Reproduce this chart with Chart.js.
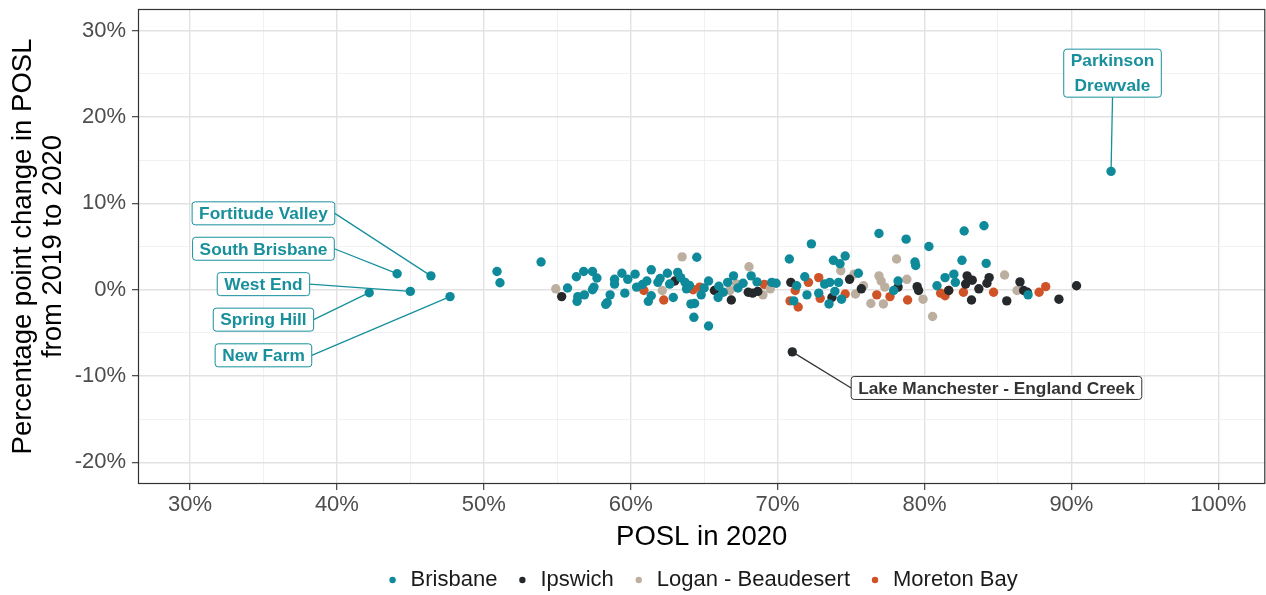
<!DOCTYPE html>
<html>
<head>
<meta charset="utf-8">
<title>POSL change by SA2</title>
<script src="https://cdn.jsdelivr.net/npm/chart.js@4.4.0/dist/chart.umd.min.js"></script>
<style>
  html, body { margin: 0; padding: 0; background: #fff; overflow: hidden; }
  #wrap { width: 1270px; height: 595px; }
</style>
</head>
<body>
<div id="wrap"><canvas id="posl" width="1270" height="595"></canvas></div>
<script>
// --- Data: [POSL in 2020 (%), pp change 2019->2020 (%)]
const seriesNames = ['Brisbane', 'Ipswich', 'Logan - Beaudesert', 'Moreton Bay'];
const seriesColors = ['#0e8a9b', '#26292c', '#bdaf9f', '#cf5326'];

const brisbane = [
  [46.4, 1.6], [44.1, 1.85], [45.0, -0.2], [42.2, -0.35], [47.7, -0.8], [92.7, 13.7],
  [50.9, 2.1], [51.1, 0.8], [53.9, 3.2], [55.7, 0.2], [56.3, 1.5], [56.8, 2.1],
  [57.4, 2.1], [57.7, 1.35], [57.5, 0.3], [57.4, 0.0], [56.85, -0.6], [56.4, -0.8],
  [56.35, -1.35], [58.4, -1.5], [58.3, -1.7], [58.6, -0.6], [58.9, 0.65], [58.9, 1.2],
  [59.4, 1.9], [59.6, -0.4], [59.8, 1.2], [60.3, 1.8], [60.4, 0.3], [60.8, 0.6],
  [61.4, 2.3], [61.1, 1.0], [61.4, -0.7], [61.2, -1.35], [61.85, 0.85], [62.0, 1.3],
  [62.5, 1.9], [62.65, 0.65], [63.2, 2.0], [63.4, 1.4], [64.5, 3.75], [62.9, -0.9],
  [63.7, 0.85], [63.8, 0.1], [64.0, 0.5], [64.8, -0.6], [64.1, -1.65], [64.35, -1.6],
  [64.3, -3.2], [65.3, -4.2], [65.3, 1.0], [65.0, 0.2], [65.95, -0.9], [66.3, -0.3],
  [66.0, 0.4], [66.6, 0.85], [67.0, 1.6], [67.3, 0.2], [67.65, 0.75], [68.2, 1.6],
  [68.6, 0.9], [69.6, 0.85], [69.9, 0.75], [70.8, 3.55], [72.3, 5.3], [76.9, 6.5],
  [78.75, 5.85], [80.3, 5.0], [71.3, 0.45], [71.1, -1.3], [71.85, 1.5], [72.0, -0.6],
  [72.8, -0.4], [73.2, 0.65], [73.55, 0.85], [73.8, 3.4], [74.25, 3.0], [74.6, 3.9],
  [74.15, 0.85], [73.5, -1.65], [73.9, -0.2], [74.35, -1.1], [75.5, 1.9], [77.9, -0.1],
  [78.2, 1.0], [79.35, 3.2], [79.4, 2.8], [80.85, 0.45], [81.4, 1.4], [82.7, 6.8],
  [84.05, 7.4], [82.55, 3.4], [84.2, 3.05], [82.0, 1.8], [82.1, 0.85], [87.05, -0.6]
];

const ipswich = [
  [55.3, -0.8], [63.0, 1.0], [65.7, -0.1], [66.85, -1.2], [68.0, -0.3], [68.3, -0.4],
  [68.65, -0.2], [70.9, 0.85], [71.0, -7.2], [73.7, -0.9], [74.9, 1.2], [75.7, 0.1],
  [78.2, 0.3], [79.5, 0.35], [79.6, -0.1], [81.65, -0.1], [82.9, 1.6], [83.25, 1.1],
  [82.8, 0.65], [83.2, -1.2], [83.7, 0.1], [84.4, 1.4], [84.25, 0.75], [85.6, -1.3],
  [86.5, 0.9], [86.75, -0.1], [87.0, -0.3], [89.15, -1.1], [90.35, 0.45]
];

const logan = [
  [54.9, 0.1], [62.15, -0.1], [63.5, 3.8], [66.75, -0.1], [67.2, 0.65], [68.05, 2.65],
  [69.0, -0.6], [69.5, 0.1], [74.3, 2.2], [75.2, 1.8], [75.3, -0.5], [75.85, 0.45],
  [76.35, -1.6], [76.9, 1.6], [77.05, 1.0], [77.2, -1.65], [77.3, 0.3], [78.1, 3.55],
  [78.8, 1.2], [79.9, -1.1], [80.55, -3.1], [85.45, 1.7], [86.3, -0.1]
];

const moretonBay = [
  [60.9, -0.1], [62.25, -1.2], [64.25, 0.0], [64.7, 0.3], [69.1, 0.6], [70.85, -1.3],
  [71.2, -0.1], [71.4, -2.0], [72.1, 0.85], [72.8, 1.4], [72.9, -1.0], [74.6, -0.5],
  [76.75, -0.6], [77.65, -0.8], [78.85, -1.2], [81.1, -0.4], [81.4, -0.7], [81.65, -0.1],
  [82.65, -0.3], [84.7, -0.3], [87.8, -0.3], [88.25, 0.35]
];

const seriesData = [brisbane, ipswich, logan, moretonBay];

// tick values (every 5; only multiples of 10 get a label)
const xTickValues = [30, 35, 40, 45, 50, 55, 60, 65, 70, 75, 80, 85, 90, 95, 100];
const yTickValues = [-20, -15, -10, -5, 0, 5, 10, 15, 20, 25, 30];

// labelled suburbs: point, label centre (data units), side the leader line leaves from
const callouts = [
  { text: ['Fortitude Valley'], series: 0, point: [46.4, 1.6], at: [35.0, 8.84], side: 'right' },
  { text: ['South Brisbane'], series: 0, point: [44.1, 1.85], at: [35.0, 4.74], side: 'right' },
  { text: ['West End'], series: 0, point: [45.0, -0.2], at: [35.0, 0.64], side: 'right' },
  { text: ['Spring Hill'], series: 0, point: [42.2, -0.35], at: [35.0, -3.47], side: 'right' },
  { text: ['New Farm'], series: 0, point: [47.7, -0.8], at: [35.0, -7.6], side: 'right' },
  { text: ['Parkinson', 'Drewvale'], series: 0, point: [92.7, 13.7], at: [92.8, 25.07], side: 'bottom' },
  { text: ['Lake Manchester - England Creek'], series: 1, point: [71.0, -7.2], at: [84.9, -11.38], side: 'left' }
];
const calloutColors = ['#17909c', '#333333'];

const FONT = '"Liberation Sans", Arial, Helvetica, sans-serif';
Chart.defaults.font.family = FONT;

// --- plugins
const panelBorder = {
  id: 'panelBorder',
  afterDraw(chart) {
    const { ctx, chartArea: a } = chart;
    ctx.save();
    ctx.strokeStyle = '#333333';
    ctx.lineWidth = 1.2;
    ctx.strokeRect(a.left + 0.5, a.top + 0.5, a.right - a.left - 1, a.bottom - a.top - 1);
    ctx.restore();
  }
};

function calloutBox(chart, c) {
  const ctx = chart.ctx;
  ctx.font = 'bold 17.3px ' + FONT;
  const w = Math.max(...c.text.map(t => ctx.measureText(t).width)) + 14;
  const h = 23 + (c.text.length - 1) * 25;
  const cx = chart.scales.x.getPixelForValue(c.at[0]);
  const cy = chart.scales.y.getPixelForValue(c.at[1]);
  return { left: cx - w / 2, top: cy - h / 2, w, h, cx, cy };
}

const calloutPlugin = {
  id: 'callouts',
  beforeDatasetsDraw(chart) {
    const ctx = chart.ctx;
    ctx.save();
    callouts.forEach(c => {
      const b = calloutBox(chart, c);
      let sx = b.cx, sy = b.cy;
      if (c.side === 'right') sx = b.left + b.w;
      if (c.side === 'left') sx = b.left;
      if (c.side === 'bottom') sy = b.top + b.h;
      ctx.strokeStyle = calloutColors[c.series];
      ctx.lineWidth = 1.3;
      ctx.beginPath();
      ctx.moveTo(sx, sy);
      ctx.lineTo(chart.scales.x.getPixelForValue(c.point[0]), chart.scales.y.getPixelForValue(c.point[1]));
      ctx.stroke();
    });
    ctx.restore();
  },
  afterDatasetsDraw(chart) {
    const ctx = chart.ctx;
    ctx.save();
    callouts.forEach(c => {
      const b = calloutBox(chart, c);
      const col = calloutColors[c.series];
      ctx.beginPath();
      ctx.roundRect(b.left, b.top, b.w, b.h, 3);
      ctx.fillStyle = '#ffffff';
      ctx.fill();
      ctx.strokeStyle = col;
      ctx.lineWidth = 1;
      ctx.stroke();
      ctx.fillStyle = col;
      ctx.textAlign = 'center';
      ctx.textBaseline = 'middle';
      c.text.forEach((t, i) => {
        ctx.fillText(t, b.cx, b.cy + (i - (c.text.length - 1) / 2) * 25 + 1);
      });
    });
    ctx.restore();
  }
};

const isMajor = v => v % 10 === 0;

function gridOpts() {
  return {
    color: c => isMajor(c.tick.value) ? '#e2e2e2' : '#eeeeee',
    lineWidth: c => isMajor(c.tick.value) ? 1.4 : 0.8,
    tickColor: c => isMajor(c.tick.value) ? '#333333' : 'rgba(0,0,0,0)',
    tickLength: 6,
    tickWidth: 1.1
  };
}

new Chart(document.getElementById('posl'), {
  type: 'scatter',
  data: {
    datasets: seriesNames.map((name, i) => ({
      label: name,
      data: seriesData[i].map(p => ({ x: p[0], y: p[1] })),
      backgroundColor: seriesColors[i],
      borderColor: seriesColors[i],
      borderWidth: 0,
      pointStyle: 'circle',
      pointRadius: 4.7,
      pointHoverRadius: 4.7
    }))
  },
  options: {
    responsive: false,
    animation: false,
    devicePixelRatio: 1,
    layout: { padding: { top: 9, right: 0, bottom: -6, left: 0 } },
    scales: {
      x: {
        type: 'linear',
        min: 26.46,
        max: 103.2,
        afterBuildTicks: s => { s.ticks = xTickValues.map(v => ({ value: v })); },
        afterFit: s => { s.height = 67; s.paddingLeft = 0; s.paddingRight = 0; },
        grid: gridOpts(),
        border: { display: false },
        ticks: {
          autoSkip: false,
          maxRotation: 0,
          padding: 2,
          color: '#4d4d4d',
          font: { size: 22 },
          callback: v => isMajor(v) ? v + '%' : ''
        },
        title: {
          display: true,
          text: 'POSL in 2020',
          color: '#000000',
          font: { size: 27.5, lineHeight: 1.0 },
          padding: { top: 0, bottom: 0 }
        }
      },
      y: {
        type: 'linear',
        min: -22.5,
        max: 32.5,
        afterBuildTicks: s => { s.ticks = yTickValues.map(v => ({ value: v })); },
        afterFit: s => { s.width = 138; s.paddingTop = 0; s.paddingBottom = 0; },
        grid: gridOpts(),
        border: { display: false },
        ticks: {
          autoSkip: false,
          padding: 6,
          color: '#4d4d4d',
          font: { size: 22 },
          callback: v => isMajor(v) ? v + '%' : ''
        },
        title: {
          display: true,
          text: ['Percentage point change in POSL', 'from 2019 to 2020'],
          color: '#000000',
          font: { size: 27.5, lineHeight: 1.09 },
          padding: { top: 8, bottom: 0 }
        }
      }
    },
    plugins: {
      legend: {
        position: 'bottom',
        fullSize: false,
        labels: {
          usePointStyle: true,
          pointStyle: 'circle',
          boxWidth: 14,
          boxHeight: 4.5,
          padding: 18,
          color: '#1a1a1a',
          font: { size: 22 }
        }
      },
      tooltip: { enabled: false }
    }
  },
  plugins: [panelBorder, calloutPlugin]
});
</script>
</body>
</html>
